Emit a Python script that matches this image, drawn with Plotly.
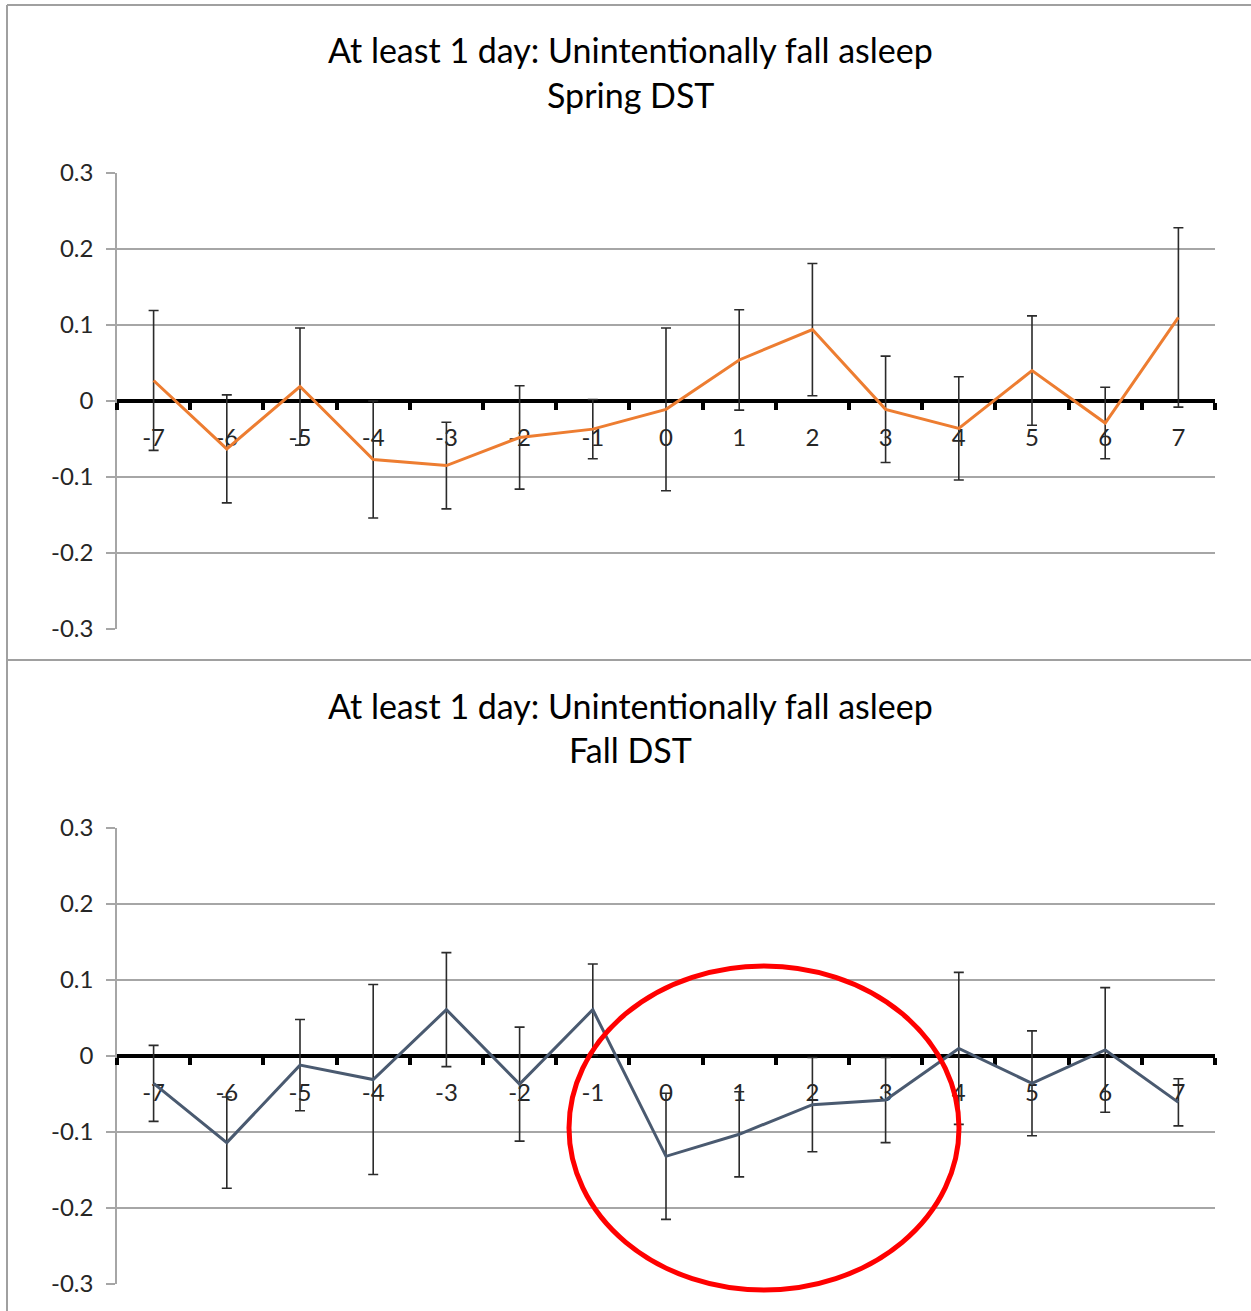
import numpy as np
import plotly.graph_objects as go

# ---------------- data ----------------
days = [-7, -6, -5, -4, -3, -2, -1, 0, 1, 2, 3, 4, 5, 6, 7]
day_labels = ["-7", "-6", "-5", "-4", "-3", "-2", "-1", "0", "1", "2", "3", "4", "5", "6", "7"]

spring_mean = [0.027, -0.063, 0.019, -0.077, -0.085, -0.048, -0.037, -0.011,
               0.054, 0.094, -0.011, -0.036, 0.040, -0.029, 0.110]
spring_err = [0.092, 0.071, 0.077, 0.077, 0.057, 0.068, 0.039, 0.107,
              0.066, 0.087, 0.070, 0.068, 0.072, 0.047, 0.118]

fall_mean = [-0.036, -0.114, -0.012, -0.031, 0.061, -0.037, 0.061, -0.132,
             -0.103, -0.064, -0.058, 0.010, -0.036, 0.008, -0.061]
fall_err = [0.050, 0.060, 0.060, 0.125, 0.075, 0.075, 0.060, 0.083,
            0.056, 0.062, 0.056, 0.100, 0.069, 0.082, 0.031]

y_ticks = [-0.3, -0.2, -0.1, 0, 0.1, 0.2, 0.3]
y_tick_labels = ["-0.3", "-0.2", "-0.1", "0", "0.1", "0.2", "0.3"]

title_line1 = "At least 1 day: Unintentionally fall asleep"
spring_sub = "Spring DST"
fall_sub = "Fall DST"

# ---------------- layout geometry ----------------
W, H = 1251, 1311
FONT = "Lato"

def px_x(x):
    return x / W

def px_y(y):
    return 1 - y / H

xdom = [px_x(117), px_x(1215)]
top_dom = [px_y(629), px_y(173)]
bot_dom = [px_y(1284), px_y(828)]

boundaries = list(np.arange(min(days) - 0.5, max(days) + 1, 1.0))

fig = go.Figure()

fig.add_trace(go.Scatter(
    x=days, y=spring_mean, mode="lines",
    line=dict(color="#ED7D31", width=3),
    error_y=dict(type="data", array=spring_err, visible=True,
                 color="#2b2b2b", thickness=1.6, width=5),
    xaxis="x", yaxis="y", showlegend=False,
))
fig.add_trace(go.Scatter(
    x=days, y=fall_mean, mode="lines",
    line=dict(color="#4A5A70", width=3),
    error_y=dict(type="data", array=fall_err, visible=True,
                 color="#2b2b2b", thickness=1.6, width=5),
    xaxis="x2", yaxis="y2", showlegend=False,
))

def xaxis_cfg(ydom):
    return dict(
        domain=xdom, range=[min(days) - 0.5, max(days) + 0.5],
        anchor="free", position=(ydom[0] + ydom[1]) / 2,
        showline=True, linecolor="black", linewidth=4,
        tickmode="array", tickvals=days, ticktext=day_labels,
        ticks="", showgrid=False, zeroline=False,
        tickfont=dict(family=FONT, size=24, color="#262626"),
        ticklabelstandoff=14,
        minor=dict(tickmode="array", tickvals=boundaries, ticks="outside",
                   ticklen=7, tickwidth=4, tickcolor="black", showgrid=False),
        layer="below traces", fixedrange=True,
    )

def yaxis_cfg(ydom, xname):
    return dict(
        domain=ydom, range=[-0.3, 0.3], anchor=xname,
        tickmode="array", tickvals=y_ticks, ticktext=y_tick_labels,
        showline=True, linecolor="#A6A6A6", linewidth=1.5,
        ticks="outside", ticklen=9, tickcolor="#A6A6A6", tickwidth=1.5,
        showgrid=True, gridcolor="#A6A6A6", gridwidth=1.5,
        zeroline=False,
        tickfont=dict(family=FONT, size=24, color="#262626"),
        ticklabelstandoff=8,
        layer="below traces", fixedrange=True,
    )

fig.update_layout(
    width=W, height=H,
    margin=dict(l=0, r=0, t=0, b=0, autoexpand=False),
    paper_bgcolor="white", plot_bgcolor="white",
    xaxis=xaxis_cfg(top_dom),
    yaxis=yaxis_cfg(top_dom, "x"),
    xaxis2=xaxis_cfg(bot_dom),
    yaxis2=yaxis_cfg(bot_dom, "x2"),
    font=dict(family=FONT),
)

# titles
title_font = dict(family=FONT, size=34, color="black")
for text, ypx in [(title_line1, 50), (spring_sub, 95), (title_line1, 705), (fall_sub, 749)]:
    fig.add_annotation(text=text, xref="paper", yref="paper",
                       x=px_x(630), y=px_y(ypx), xanchor="center", yanchor="middle",
                       showarrow=False, font=title_font)

# chart frame lines
frame = dict(color="#A0A0A0", width=2)
fig.add_shape(type="line", xref="paper", yref="paper",
              x0=px_x(7), x1=1, y0=px_y(5), y1=px_y(5), line=frame)
fig.add_shape(type="line", xref="paper", yref="paper",
              x0=px_x(7), x1=px_x(7), y0=px_y(5), y1=0, line=frame)
fig.add_shape(type="line", xref="paper", yref="paper",
              x0=px_x(7), x1=1, y0=px_y(660), y1=px_y(660), line=frame)

# red highlight ellipse drawn over the fall chart
fig.add_shape(type="circle", xref="paper", yref="paper",
              x0=px_x(569), x1=px_x(959), y0=px_y(1290), y1=px_y(966),
              line=dict(color="#FF0000", width=5), layer="above")

fig.write_html("out.html",
               config={"displayModeBar": False},
               post_script="document.body.style.margin='0';document.body.style.padding='0';")
